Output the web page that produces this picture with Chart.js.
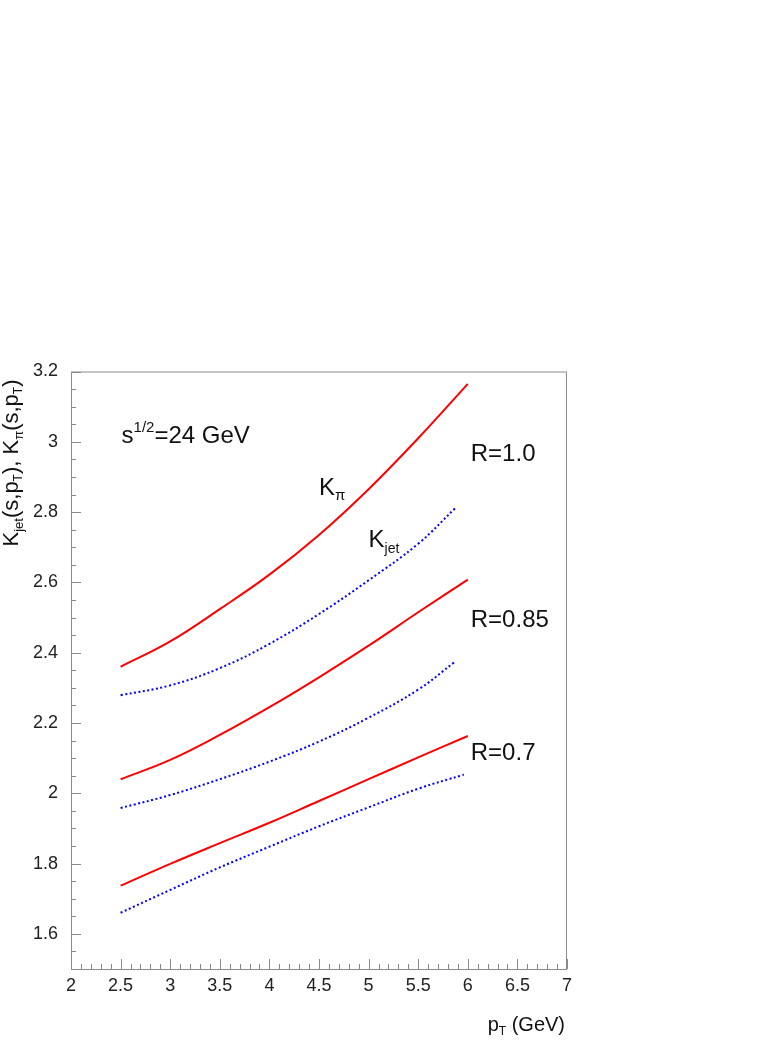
<!DOCTYPE html>
<html>
<head>
<meta charset="utf-8">
<script src="https://cdn.jsdelivr.net/npm/chart.js@4"></script>
<style>
  body { margin: 0; background: #fff; }
  #wrap { width: 765px; height: 1045px; }
</style>
</head>
<body>
<div id="wrap"><canvas id="kfactor" width="765" height="1045"></canvas></div>
<script>
// pT points (GeV)
const pt_red = [2.5, 3, 3.5, 4, 4.5, 5, 5.5, 6];
const pt_blue_10 = [2.5, 3, 3.5, 4, 4.5, 5, 5.5, 5.88];
const pt_blue_085 = [2.5, 3, 3.5, 4, 4.5, 5, 5.5, 5.87];
const pt_blue_07 = [2.5, 3, 3.5, 4, 4.5, 5, 5.5, 5.96];

// K_pi (red, solid) and K_jet (blue, dotted) for R = 1.0, 0.85, 0.7
const kpi_10 = [2.36, 2.432, 2.524, 2.622, 2.735, 2.865, 3.01, 3.165];
const kjet_10 = [2.279, 2.307, 2.356, 2.425, 2.51, 2.606, 2.71, 2.813];
const kpi_085 = [2.04, 2.095, 2.166, 2.245, 2.33, 2.42, 2.515, 2.608];
const kjet_085 = [1.958, 1.995, 2.04, 2.09, 2.147, 2.215, 2.295, 2.374];
const kpi_07 = [1.737, 1.799, 1.858, 1.916, 1.978, 2.04, 2.102, 2.163];
const kjet_07 = [1.66, 1.725, 1.789, 1.848, 1.906, 1.96, 2.013, 2.053];

const x_ticks = [2, 2.5, 3, 3.5, 4, 4.5, 5, 5.5, 6, 6.5, 7];
const y_ticks = [1.6, 1.8, 2, 2.2, 2.4, 2.6, 2.8, 3, 3.2];

const FONT = "'Liberation Sans', Arial, sans-serif";
const AXIS_GRAY = "#8a8a8a";

function pairs(xs, ys){
	return xs.map((x, i) => ({x: x, y: ys[i]}));
}

function redSet(xs, ys){
	return {data: pairs(xs, ys), borderColor: "#ff0000", borderWidth: 2,
		pointRadius: 0, fill: false, tension: 0.4};
}
function blueSet(xs, ys){
	return {data: pairs(xs, ys), borderColor: "#0000ff", borderWidth: 2,
		borderDash: [2, 2.5], pointRadius: 0, fill: false, tension: 0.4};
}

// draw text made of pieces [text, size, dy]
function richWidth(ctx, parts){
	let w = 0;
	parts.forEach(p => { ctx.font = p[1] + "px " + FONT; w += ctx.measureText(p[0]).width; });
	return w;
}
function drawRich(ctx, parts, x, y){
	parts.forEach(p => {
		ctx.font = p[1] + "px " + FONT;
		ctx.fillText(p[0], x, y + (p[2] || 0));
		x += ctx.measureText(p[0]).width;
	});
}

const decorations = {
	id: 'decorations',
	afterDraw(chart){
		const ctx = chart.ctx;
		const xs = chart.scales.x, ys = chart.scales.y;
		const a = chart.chartArea;
		ctx.save();

		// frame
		ctx.strokeStyle = AXIS_GRAY;
		ctx.lineWidth = 1;
		ctx.strokeRect(a.left + 0.5, a.top + 0.5, a.right - a.left - 1, a.bottom - a.top);

		// inward ticks
		ctx.beginPath();
		for (let i = 0; i <= 50; i++) {
			const v = 2 + i * 0.1;
			const px = Math.round(xs.getPixelForValue(v)) + 0.5;
			const len = (i % 5 === 0) ? 10 : 5;
			ctx.moveTo(px, a.bottom);
			ctx.lineTo(px, a.bottom - len);
		}
		for (let i = 0; i <= 34; i++) {
			const v = 1.5 + i * 0.05;
			const py = Math.round(ys.getPixelForValue(v)) + 0.5;
			const len = ((i - 2) % 4 === 0) ? 10 : 5;
			ctx.moveTo(a.left, py);
			ctx.lineTo(a.left + len, py);
		}
		ctx.stroke();

		// labels inside the plot
		ctx.fillStyle = "#111";
		ctx.textBaseline = "alphabetic";
		ctx.textAlign = "left";
		drawRich(ctx, [["s", 24], ["1/2", 15, -11], ["=24 GeV", 24]],
			xs.getPixelForValue(2.51), ys.getPixelForValue(2.997));
		drawRich(ctx, [["R=1.0", 24]], xs.getPixelForValue(6.03), ys.getPixelForValue(2.945));
		drawRich(ctx, [["R=0.85", 24]], xs.getPixelForValue(6.03), ys.getPixelForValue(2.473));
		drawRich(ctx, [["R=0.7", 24]], xs.getPixelForValue(6.03), ys.getPixelForValue(2.095));
		drawRich(ctx, [["K", 24], ["π", 15, 5]], xs.getPixelForValue(4.5), ys.getPixelForValue(2.849));
		drawRich(ctx, [["K", 24], ["jet", 14, 6]], xs.getPixelForValue(5.0), ys.getPixelForValue(2.70));

		// x title
		const xt = [["p", 20], ["T", 12, 4], [" (GeV)", 20]];
		drawRich(ctx, xt, a.right - richWidth(ctx, xt) - 2, 1031);

		// y title, rotated
		const yt = [["K", 22], ["jet", 13, 5], ["(s,p", 22], ["T", 12, 4], ["), K", 22],
			["π", 13, 5], ["(s,p", 22], ["T", 12, 4], [")", 22]];
		ctx.translate(18, 463);
		ctx.rotate(-Math.PI / 2);
		drawRich(ctx, yt, -richWidth(ctx, yt) / 2, 0);
		ctx.restore();
	}
};

const chart = new Chart(document.getElementById("kfactor").getContext("2d"), {
	type: 'line',
	data: {
		datasets: [
			redSet(pt_red, kpi_10),
			blueSet(pt_blue_10, kjet_10),
			redSet(pt_red, kpi_085),
			blueSet(pt_blue_085, kjet_085),
			redSet(pt_red, kpi_07),
			blueSet(pt_blue_07, kjet_07)
		]
	},
	options: {
		responsive: false,
		animation: false,
		layout: {padding: {top: 371.5, right: 198, left: 0, bottom: 0}},
		plugins: {legend: {display: false}, tooltip: {enabled: false}},
		scales: {
			x: {
				type: 'linear', min: 2, max: 7,
				grid: {display: false, drawTicks: false},
				border: {display: false},
				afterBuildTicks: s => { s.ticks = x_ticks.map(v => ({value: v})); },
				afterFit: s => { s.height = 1045 - 969; },
				ticks: {padding: 6, color: "#222", font: {family: FONT, size: 18},
					maxRotation: 0, autoSkip: false,
					callback: v => String(+v.toFixed(2))}
			},
			y: {
				type: 'linear', min: 1.5, max: 3.2,
				grid: {display: false, drawTicks: false},
				border: {display: false},
				afterBuildTicks: s => { s.ticks = y_ticks.map(v => ({value: v})); },
				afterFit: s => { s.width = 71; },
				ticks: {padding: 13, color: "#222", font: {family: FONT, size: 18},
					autoSkip: false,
					callback: v => String(+v.toFixed(2))}
			}
		}
	},
	plugins: [decorations]
});
</script>
</body>
</html>
